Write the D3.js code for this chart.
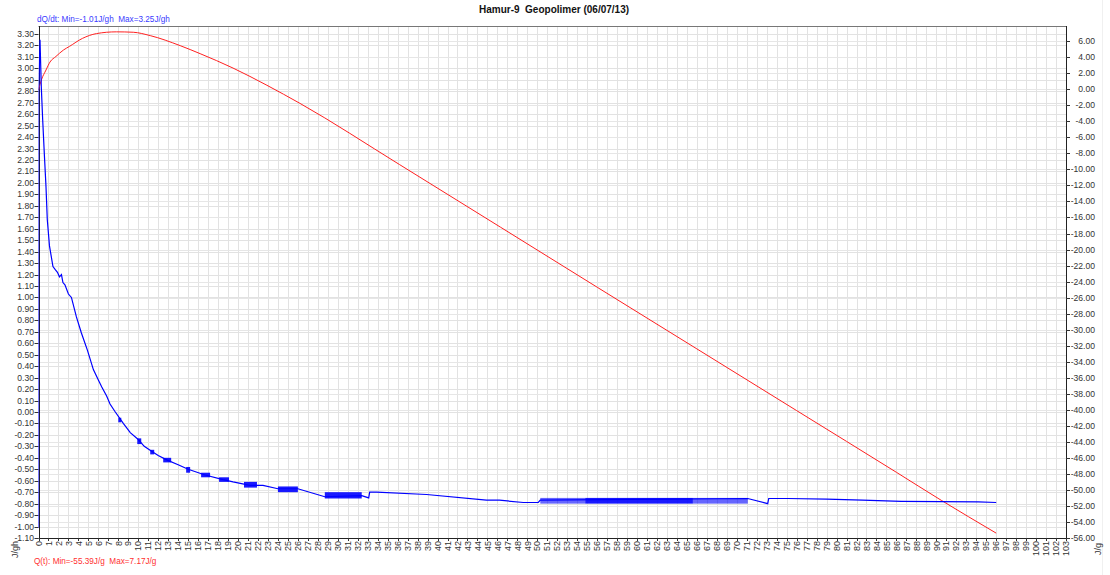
<!DOCTYPE html>
<html><head><meta charset="utf-8">
<script src="https://cdn.jsdelivr.net/npm/d3@7"></script>
<style>
body{margin:0;background:#fff;}
svg text{font-family:"Liberation Sans",Arial,sans-serif;white-space:pre;}
</style></head>
<body>
<svg id="c" width="1110" height="575"></svg>
<script>
// ---- data ----
const titleText = "Hamur-9  Geopolimer (06/07/13)";
const dqLabel = "dQ/dt: Min=-1.01J/gh  Max=3.25J/gh";
const qLabel = "Q(t): Min=-55.39J/g  Max=7.17J/g";
const leftUnit = "J/gh";
const rightUnit = "J/g";

// dQ/dt (J/gh) vs time (h)
const dqTime = [0,0.02,0.15,0.28,0.42,0.58,0.75,0.88,1.1,1.45,1.7,1.9,2.1,2.3,2.45,2.65,3.0,3.3,3.8,4.3,4.9,5.5,6.0,6.33,6.83,7.17,7.7,8.5,9.2,10.0,10.6,11.3,12.0,12.9,14.0,15.0,16.7,18.5,19.5,21.2,22.5,24.0,26.0,28.7,32.4,33.1,33.2,33.9,38.9,44.9,46.2,48.6,50.1,50.3,71.1,73.1,73.2,75.1,79.0,82.6,86.5,94.2,96.0];
const dqValue = [-1.01,2.80,3.25,2.84,2.55,2.26,1.97,1.68,1.45,1.27,1.24,1.22,1.18,1.20,1.13,1.11,1.03,1.00,0.83,0.69,0.54,0.37,0.28,0.22,0.14,0.07,0.00,-0.10,-0.18,-0.24,-0.30,-0.34,-0.38,-0.42,-0.46,-0.50,-0.55,-0.59,-0.61,-0.64,-0.64,-0.67,-0.67,-0.74,-0.73,-0.75,-0.70,-0.70,-0.72,-0.77,-0.77,-0.79,-0.79,-0.77,-0.755,-0.80,-0.755,-0.755,-0.76,-0.77,-0.78,-0.785,-0.79];

// dQ/dt flicker bands: start h, end h, upper, lower, density
const bandStart = [8.0,9.9,11.2,12.5,14.8,16.3,18.1,20.6,24.0,28.7,50.3,54.8,65.6];
const bandEnd   = [8.3,10.3,11.6,13.3,15.2,17.2,19.1,21.9,26.0,32.4,54.8,65.6,71.1];
const bandHigh  = [-0.05,-0.23,-0.33,-0.40,-0.48,-0.53,-0.57,-0.61,-0.65,-0.70,-0.75,-0.75,-0.75];
const bandLow   = [-0.09,-0.28,-0.37,-0.44,-0.53,-0.57,-0.61,-0.66,-0.70,-0.755,-0.80,-0.80,-0.80];
const bandDense = [1,1,1,1,1,1,1,1,1,1,0,1,0];

// Q(t) (J/g) vs time (h)
const qTime  = [0,0.3,0.75,1.15,1.75,2.5,3.1,4.4,5.8,7.8,9.5,11.2,14.2,16.2,19.5,22.9,26.2,36.2,46.3,56.0,66.0,76.0,86.0,90.5,96.0];
const qValue = [-0.1,1.2,2.4,3.4,4.1,4.9,5.35,6.35,6.95,7.17,7.12,6.7,5.45,4.45,2.65,0.5,-1.75,-9.4,-17.2,-24.7,-32.4,-40.1,-47.8,-51.3,-55.39];

// ticks
const xTicks = d3.range(0, 104);
const leftTicks = d3.range(-11, 34).map(i => i / 10);
const rightTicks = d3.range(-56, 8, 2);

// ---- layout ----
const L = 38.5, R = 1066, T = 26, B = 538;
const svg = d3.select("#c");
const x = d3.scaleLinear().domain([0, 103]).range([L, R]);
const yL = d3.scaleLinear().domain([-1.10, 3.37]).range([B, T]);
const yR = d3.scaleLinear().domain([-56, 7.9]).range([B, T]);
const px = v => Math.round(v) + 0.5;

// right faint strip
svg.append("line").attr("x1",1102.5).attr("x2",1102.5).attr("y1",0).attr("y2",575).attr("stroke","#f0f0f0");

// grid
const g = svg.append("g");
g.selectAll(".vg").data(xTicks).join("line")
  .attr("x1", d => px(x(d))).attr("x2", d => px(x(d))).attr("y1", T).attr("y2", B)
  .attr("stroke", "#e2e2e2").attr("stroke-width", 1);
g.selectAll(".hl").data(leftTicks).join("line")
  .attr("x1", L).attr("x2", R).attr("y1", d => px(yL(d))).attr("y2", d => px(yL(d)))
  .attr("stroke", "#e2e2e2");
g.selectAll(".hr").data(rightTicks).join("line")
  .attr("x1", L).attr("x2", R).attr("y1", d => px(yR(d))).attr("y2", d => px(yR(d)))
  .attr("stroke", "#e6e6e6");

// frame
svg.append("line").attr("x1",L).attr("x2",R).attr("y1",px(T)).attr("y2",px(T)).attr("stroke","#777");
svg.append("line").attr("x1",px(L)).attr("x2",px(L)).attr("y1",T).attr("y2",B).attr("stroke","#222");
svg.append("line").attr("x1",px(R)).attr("x2",px(R)).attr("y1",T).attr("y2",B).attr("stroke","#222");
svg.append("line").attr("x1",L).attr("x2",R).attr("y1",px(B)).attr("y2",px(B)).attr("stroke","#222");

// left ticks + labels
const fs = 8.6;
const lt = svg.append("g");
lt.selectAll("line").data(leftTicks).join("line")
  .attr("x1", L - 4).attr("x2", L).attr("y1", d => px(yL(d))).attr("y2", d => px(yL(d))).attr("stroke","#333");
lt.selectAll("text").data(leftTicks).join("text")
  .attr("x", L - 4.5).attr("y", d => yL(d) + 3).attr("text-anchor","end")
  .attr("font-size", fs).attr("fill","#333").text(d => d.toFixed(2).replace("-0.00","0.00"));

// right ticks + labels
const rt = svg.append("g");
rt.selectAll("line").data(rightTicks).join("line")
  .attr("x1", R).attr("x2", R + 4).attr("y1", d => px(yR(d))).attr("y2", d => px(yR(d))).attr("stroke","#333");
rt.selectAll("text").data(rightTicks).join("text")
  .attr("x", 1095).attr("y", d => yR(d) + 3).attr("text-anchor","end")
  .attr("font-size", fs).attr("fill","#333").text(d => d.toFixed(2));

// bottom ticks + labels
const bt = svg.append("g");
bt.selectAll("line").data(xTicks).join("line")
  .attr("x1", d => px(x(d))).attr("x2", d => px(x(d))).attr("y1", B).attr("y2", B + 3).attr("stroke","#333");
bt.selectAll("text").data(xTicks).join("text")
  .attr("transform", d => `translate(${x(d) + 3.2},${B + 3}) rotate(-90)`)
  .attr("text-anchor","end").attr("font-size", 9).attr("fill","#333").text(d => d);

// clip
svg.append("clipPath").attr("id","clip").append("rect").attr("x",L).attr("y",T).attr("width",R-L+1).attr("height",B-T+1);
const plot = svg.append("g").attr("clip-path","url(#clip)");

// Q(t) red line
const qData = qTime.map((t,i) => [t, qValue[i]]);
plot.append("path").datum(qData)
  .attr("d", d3.line().x(d => x(d[0])).y(d => yR(d[1])).curve(d3.curveMonotoneX))
  .attr("fill","none").attr("stroke","#ff2020").attr("stroke-width",1);

// dQ/dt flicker bands
const bands = bandStart.map((s,i) => ({s, e: bandEnd[i], hi: bandHigh[i], lo: bandLow[i], dense: bandDense[i]}));
plot.selectAll(".band").data(bands).join("rect")
  .attr("x", d => x(d.s)).attr("width", d => x(d.e) - x(d.s))
  .attr("y", d => yL(d.hi)).attr("height", d => yL(d.lo) - yL(d.hi))
  .attr("fill", "#0000ff").attr("opacity", d => d.dense ? 0.9 : 0.6);

// dQ/dt blue line
const dqData = dqTime.map((t,i) => [t, dqValue[i]]);
plot.append("path").datum(dqData)
  .attr("d", d3.line().x(d => x(d[0])).y(d => yL(d[1])))
  .attr("fill","none").attr("stroke","#0000ff").attr("stroke-width",1.2);

// texts
svg.append("text").attr("x", 554).attr("y", 13).attr("text-anchor","middle")
  .attr("font-size", 10).attr("font-weight","bold").attr("fill","#111").text(titleText);
svg.append("text").attr("x", 37).attr("y", 22).attr("font-size", 8.2).attr("fill","#3a3aff").text(dqLabel);
svg.append("text").attr("x", 34).attr("y", 564).attr("font-size", 8.2).attr("fill","#ff3030").text(qLabel);
svg.append("text").attr("transform","translate(18,558) rotate(-90)").attr("font-size", 9).attr("fill","#333").text(leftUnit);
svg.append("text").attr("transform","translate(1101,555) rotate(-90)").attr("font-size", 9).attr("fill","#333").text(rightUnit);
</script>
</body></html>
